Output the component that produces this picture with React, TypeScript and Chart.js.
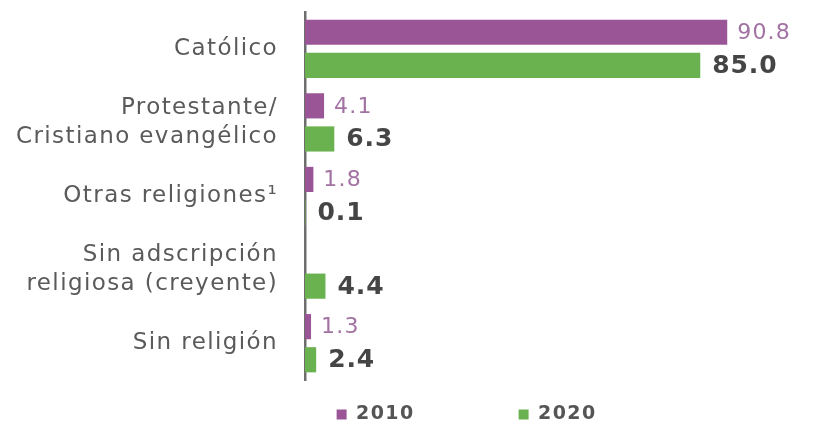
import React, { useEffect, useRef } from 'react';
import { Chart, registerables } from 'chart.js';

Chart.register(...registerables);

const categories: string[][] = [
  ['Católico'],
  ['Protestante/', 'Cristiano evangélico'],
  ['Otras religiones¹'],
  ['Sin adscripción', 'religiosa (creyente)'],
  ['Sin religión'],
];
const seriesNames = ['2010', '2020'];
const values2010: (number | null)[] = [90.8, 4.1, 1.8, null, 1.3];
const values2020: (number | null)[] = [85.0, 6.3, 0.1, 4.4, 2.4];

const PURPLE = '#9a5596';
const GREEN = '#6ab150';
const FONT = '"DejaVu Sans", "Liberation Sans", sans-serif';

// The source text looks horizontally stretched; emulate with letter spacing.
const textStretch = {
  id: 'textStretch',
  beforeDraw(chart: any) {
    (chart.ctx as any).letterSpacing = '1.4px';
  },
  afterDraw(chart: any) {
    (chart.ctx as any).letterSpacing = '0px';
  },
};

const valueLabels = {
  id: 'valueLabels',
  afterDatasetsDraw(chart: any) {
    const ctx = chart.ctx;
    chart.data.datasets.forEach((ds: any, di: number) => {
      const meta = chart.getDatasetMeta(di);
      meta.data.forEach((bar: any, i: number) => {
        const v = ds.data[i];
        if (v == null) return;
        ctx.save();
        ctx.font = di === 0 ? `normal 22px ${FONT}` : `bold 25px ${FONT}`;
        (ctx as any).letterSpacing = di === 0 ? '1.2px' : '0.9px';
        ctx.fillStyle = di === 0 ? '#a272a2' : '#454545';
        ctx.textBaseline = 'middle';
        ctx.textAlign = 'left';
        ctx.fillText(Number(v).toFixed(1), bar.x + (di === 0 ? 10 : 12), bar.y + 1);
        ctx.restore();
      });
    });
  },
};

const LEGEND_CENTER_X = 461;
const LEGEND_ITEM_TOP = 405;

const legendPlace = {
  id: 'legendPlace',
  afterLayout(chart: any) {
    const lg = chart.legend;
    if (!lg) return;
    const pad = lg.options.labels.padding;
    const shift = LEGEND_CENTER_X - (lg.left + lg.right) / 2;
    lg.left += shift;
    lg.right += shift;
    lg.top = LEGEND_ITEM_TOP - pad;
    lg.bottom = chart.height;
  },
};

export default function App() {
  const ref = useRef<HTMLCanvasElement | null>(null);
  useEffect(() => {
    if (!ref.current) return;
    const chart = new Chart(ref.current, {
      type: 'bar',
      data: {
        labels: categories,
        datasets: [
          {
            label: seriesNames[0],
            data: values2010,
            backgroundColor: PURPLE,
            borderWidth: 0,
            categoryPercentage: 0.9,
            barPercentage: 0.76,
          },
          {
            label: seriesNames[1],
            data: values2020,
            backgroundColor: GREEN,
            borderWidth: 0,
            categoryPercentage: 0.9,
            barPercentage: 0.76,
          },
        ],
      },
      options: {
        indexAxis: 'y',
        animation: false,
        responsive: true,
        maintainAspectRatio: false,
        layout: { padding: { top: 12, right: 44, bottom: 5, left: 0 } },
        scales: {
          x: { display: false, min: 0, max: 100 },
          y: {
            grid: { display: false, drawTicks: false },
            border: { display: true, color: '#6e6e6e', width: 2.5 },
            ticks: {
              color: '#5a5a5a',
              padding: 27,
              font: { family: FONT, size: 23, lineHeight: 1.24 },
            },
            afterFit(scale: any) {
              scale.width = 305;
              scale.paddingTop = 0;
              scale.paddingBottom = 0;
            },
          },
        },
        plugins: {
          tooltip: { enabled: false },
          legend: {
            position: 'bottom',
            maxHeight: 40,
            labels: {
              boxWidth: 10,
              boxHeight: 10,
              padding: 104,
              color: '#555555',
              font: { family: FONT, size: 19, weight: 'bold' },
            },
          },
        },
      },
      plugins: [textStretch, valueLabels, legendPlace],
    } as any);
    return () => chart.destroy();
  }, []);
  return (
    <div style={{ position: 'fixed', left: 0, top: 0, width: 814, height: 425, background: '#fff' }}>
      <canvas ref={ref} />
    </div>
  );
}
